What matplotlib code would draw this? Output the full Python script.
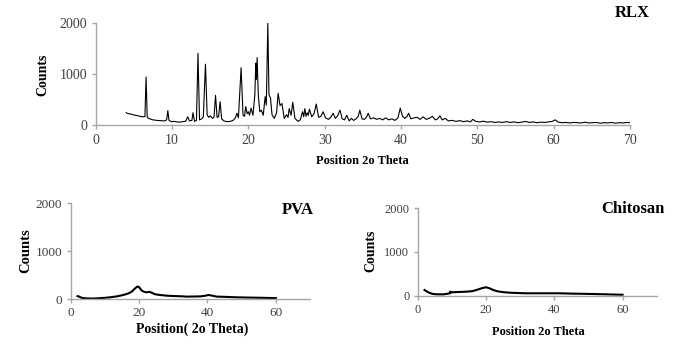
import matplotlib
matplotlib.use("Agg")
import matplotlib.pyplot as plt

plt.rcParams['font.family'] = ['Liberation Serif', 'DejaVu Serif']

# RLX 衍射图（从图上读取的点）
rlx_theta = [4.0, 4.3, 4.6, 5.0, 5.4, 5.8, 6.2, 6.45, 6.6, 6.75, 7.0, 7.5, 8.0, 8.5, 9.0, 9.3, 9.45, 9.6,
             9.9, 10.3, 10.7, 11.0, 11.4, 11.8, 12.05, 12.3, 12.6, 12.75, 12.95, 13.2, 13.4, 13.6, 13.9,
             14.1, 14.38, 14.6, 14.8, 15.0, 15.3, 15.5, 15.7, 15.9, 16.1, 16.3, 16.5, 16.8, 17.2, 17.6,
             18.0, 18.3, 18.5, 18.7, 19.05, 19.3, 19.5, 19.65, 19.85, 20.0, 20.15, 20.35, 20.6, 20.85,
             20.97, 21.05, 21.15, 21.3, 21.5, 21.7, 21.95, 22.2, 22.35, 22.55, 22.7, 22.9, 23.1, 23.4,
             23.7, 23.9, 24.15, 24.4, 24.7, 25.0, 25.2, 25.35, 25.6, 25.82, 26.1, 26.5, 26.8, 27.1, 27.25,
             27.4, 27.55, 27.7, 27.85, 28.0, 28.3, 28.6, 28.9, 29.2, 29.5, 29.8, 30.1, 30.5, 30.8, 31.1,
             31.4, 31.7, 32.0, 32.3, 32.6, 32.9, 33.2, 33.5, 33.8, 34.1, 34.4, 34.6, 34.9, 35.2, 35.5,
             35.7, 36.0, 36.4, 36.8, 37.2, 37.6, 38.0, 38.4, 38.8, 39.2, 39.6, 39.9, 40.2, 40.5, 40.8,
             41.0, 41.3, 41.7, 42.1, 42.5, 42.9, 43.3, 43.7, 44.1, 44.5, 44.8, 45.1, 45.4, 45.8, 46.2,
             46.7, 47.2, 47.7, 48.2, 48.7, 49.1, 49.4, 49.8, 50.3, 50.8, 51.3, 51.8, 52.3, 52.8, 53.3,
             53.8, 54.3, 54.8, 55.3, 55.8, 56.3, 56.8, 57.3, 57.8, 58.3, 58.8, 59.3, 59.8, 60.2, 60.6,
             61.1, 61.6, 62.1, 62.6, 63.1, 63.6, 64.1, 64.6, 65.1, 65.6, 66.1, 66.6, 67.1, 67.6, 68.1,
             68.6, 69.1, 69.6, 70.0]
rlx_counts = [250, 230, 225, 205, 195, 180, 170, 175, 950, 160, 135, 110, 100, 95, 90, 110, 290, 100,
              75, 80, 70, 65, 75, 85, 170, 90, 100, 250, 80, 100, 1410, 110, 130,
              170, 1200, 210, 160, 190, 140, 160, 590, 160, 170, 465, 130, 90, 75, 80,
              100, 150, 240, 150, 1130, 200, 180, 370, 230, 270, 200, 340, 200, 600,
              1220, 900, 1330, 600, 270, 300, 200, 565, 400, 2000, 600, 540, 210, 140,
              250, 630, 390, 430, 140, 210, 160, 330, 200, 455, 140, 80, 110, 270, 170,
              330, 180, 250, 200, 320, 170, 230, 420, 160, 180, 270, 150, 120, 160, 240,
              140, 190, 300, 130, 110, 200, 90, 140, 100, 130, 180, 300, 130, 120, 170,
              240, 130, 150, 120, 140, 110, 150, 110, 130, 100, 150, 340, 180, 140, 180,
              240, 130, 150, 160, 120, 170, 120, 140, 180, 110, 130, 190, 110, 140, 90,
              100, 80, 95, 75, 90, 70, 120, 80, 70, 85, 65, 75, 60, 70, 60,
              75, 60, 70, 55, 65, 80, 60, 70, 55, 65, 60, 70, 80, 110, 65,
              55, 60, 50, 60, 55, 50, 65, 50, 55, 60, 45, 55, 50, 60, 45,
              55, 50, 60, 55]

# PVA
pva_theta = [2.0, 2.5, 3.0, 3.7, 5.0, 6.6, 8.0, 10.0, 11.5, 13.5, 15.4, 16.8, 17.8, 18.8, 19.5, 19.9,
             20.4, 20.8, 21.5, 22.2, 23.0, 23.6, 24.6, 26.0, 28.0, 30.0, 32.0, 34.0, 36.0, 38.0, 39.5,
             40.3, 41.0, 42.7, 45.0, 48.5, 52.0, 56.0, 59.2, 60.0]
pva_counts = [60, 50, 30, 18, 12, 10, 15, 25, 35, 55, 84, 115, 150, 220, 260, 255,
              210, 175, 150, 140, 150, 135, 100, 85, 70, 62, 58, 50, 52, 55, 70,
              84, 75, 50, 45, 35, 30, 25, 20, 18]

# Chitosan
chi_theta = [2.0, 2.6, 3.1, 3.8, 4.5, 5.5, 7.5, 9.1, 9.4, 9.5, 9.7, 9.9, 12.0, 14.3, 16.0, 17.2, 18.5,
             19.5, 20.1, 21.0, 22.0, 23.0, 24.0, 25.5, 26.9, 29.0, 31.8, 35.0, 38.0, 41.5, 45.0, 48.0,
             51.2, 55.0, 59.0, 60.0]
chi_counts = [130, 100, 78, 55, 40, 32, 30, 50, 55, 95, 65, 78, 85, 92, 105, 130, 165,
              185, 192, 170, 135, 108, 92, 78, 69, 62, 55, 55, 55, 55, 48, 44,
              39, 32, 23, 22]

W, H = 692, 352
fig = plt.figure(figsize=(W / 100, H / 100), dpi=100)


def ax_px(left, right, bottom, top):
    return fig.add_axes([left / W, 1 - bottom / H, (right - left) / W, (bottom - top) / H])


def txt(x, y, s, **kw):
    fig.text(x / W, 1 - y / H, s, ha='center', va='center', **kw)


def style(ax, xticks, fs):
    ax.set_xlim(0, 70)
    ax.set_ylim(0, 2000)
    ax.set_xticks(xticks)
    ax.set_yticks([0, 1000, 2000])
    for s in ['top', 'right']:
        ax.spines[s].set_visible(False)
    for s in ['left', 'bottom']:
        ax.spines[s].set_color('#a6a6a6')
        ax.spines[s].set_linewidth(1)
    ax.tick_params(direction='out', length=3, width=1, color='#a6a6a6',
                   labelsize=fs, labelcolor='#404040', pad=3)


ax1 = ax_px(95.7, 630, 125.5, 23.3)
ax1.plot(rlx_theta, rlx_counts, color='black', lw=0.8)
style(ax1, range(0, 71, 10), 10)
txt(43, 75, 'Counts', rotation=90, fontsize=10, fontweight='bold')
txt(362, 161, 'Position 2o Theta', fontsize=9, fontweight='bold')
txt(632, 13, 'RLX', fontsize=12, fontweight='bold')

ax2 = ax_px(70.7, 310, 299, 203.3)
ax2.plot(pva_theta, pva_counts, color='black', lw=1.5)
style(ax2, [0, 20, 40, 60], 9.5)
txt(26, 251, 'Counts', rotation=90, fontsize=10.5, fontweight='bold')
txt(192, 329, 'Position( 2o Theta)', fontsize=10, fontweight='bold')
txt(298, 210, 'PVA', fontsize=12, fontweight='bold')

ax3 = ax_px(417.7, 656.7, 295.7, 208.3)
ax3.plot(chi_theta, chi_counts, color='black', lw=1.5)
style(ax3, [0, 20, 40, 60], 9)
txt(371, 251, 'Counts', rotation=90, fontsize=10, fontweight='bold')
txt(538, 332, 'Position 2o Theta', fontsize=9, fontweight='bold')
txt(633, 209, 'Chitosan', fontsize=12, fontweight='bold')

fig.savefig('out.png', dpi=100)
